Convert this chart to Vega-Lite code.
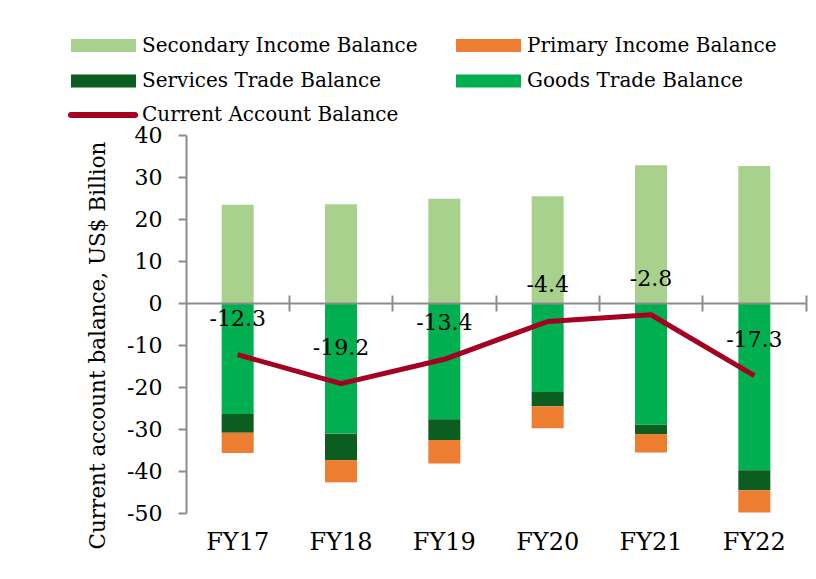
{
  "$schema": "https://vega.github.io/schema/vega-lite/v6.json",
  "width": 620,
  "height": 378,
  "autosize": {"type": "none"},
  "padding": {"left": 186, "top": 135, "right": 10, "bottom": 66},
  "background": "white",
  "config": {
    "font": "DejaVu Serif",
    "view": {"stroke": null},
    "axis": {"labelColor": "#000000", "titleColor": "#000000", "grid": false},
    "legend": {"labelColor": "#000000", "labelFont": "DejaVu Serif"}
  },
  "datasets": {
    "bars": [
      {"year": "FY17", "component": "Secondary Income Balance", "rank": 0, "value": 23.4},
      {"year": "FY17", "component": "Goods Trade Balance", "rank": 1, "value": -26.4},
      {"year": "FY17", "component": "Services Trade Balance", "rank": 2, "value": -4.5},
      {"year": "FY17", "component": "Primary Income Balance", "rank": 3, "value": -4.8},
      {"year": "FY18", "component": "Secondary Income Balance", "rank": 0, "value": 23.5},
      {"year": "FY18", "component": "Goods Trade Balance", "rank": 1, "value": -31.1},
      {"year": "FY18", "component": "Services Trade Balance", "rank": 2, "value": -6.3},
      {"year": "FY18", "component": "Primary Income Balance", "rank": 3, "value": -5.3},
      {"year": "FY19", "component": "Secondary Income Balance", "rank": 0, "value": 24.8},
      {"year": "FY19", "component": "Goods Trade Balance", "rank": 1, "value": -27.7},
      {"year": "FY19", "component": "Services Trade Balance", "rank": 2, "value": -4.9},
      {"year": "FY19", "component": "Primary Income Balance", "rank": 3, "value": -5.6},
      {"year": "FY20", "component": "Secondary Income Balance", "rank": 0, "value": 25.4},
      {"year": "FY20", "component": "Goods Trade Balance", "rank": 1, "value": -21.2},
      {"year": "FY20", "component": "Services Trade Balance", "rank": 2, "value": -3.4},
      {"year": "FY20", "component": "Primary Income Balance", "rank": 3, "value": -5.2},
      {"year": "FY21", "component": "Secondary Income Balance", "rank": 0, "value": 32.8},
      {"year": "FY21", "component": "Goods Trade Balance", "rank": 1, "value": -29.0},
      {"year": "FY21", "component": "Services Trade Balance", "rank": 2, "value": -2.2},
      {"year": "FY21", "component": "Primary Income Balance", "rank": 3, "value": -4.4},
      {"year": "FY22", "component": "Secondary Income Balance", "rank": 0, "value": 32.6},
      {"year": "FY22", "component": "Goods Trade Balance", "rank": 1, "value": -39.8},
      {"year": "FY22", "component": "Services Trade Balance", "rank": 2, "value": -4.8},
      {"year": "FY22", "component": "Primary Income Balance", "rank": 3, "value": -5.3}
    ],
    "ca": [
      {"year": "FY17", "value": -12.3, "label": "-12.3"},
      {"year": "FY18", "value": -19.2, "label": "-19.2"},
      {"year": "FY19", "value": -13.4, "label": "-13.4"},
      {"year": "FY20", "value": -4.4, "label": "-4.4"},
      {"year": "FY21", "value": -2.8, "label": "-2.8"},
      {"year": "FY22", "value": -17.3, "label": "-17.3"}
    ]
  },
  "resolve": {"axis": {"x": "independent"}},
  "layer": [
    {
      "data": {"name": "bars"},
      "mark": {"type": "bar", "width": 32},
      "encoding": {
        "x": {
          "field": "year", "type": "nominal",
          "scale": {"paddingInner": 0, "paddingOuter": 0},
          "axis": {"orient": "bottom", "domain": false, "ticks": false, "labelFontSize": 24, "labelPadding": 17, "labelAngle": 0, "title": null}
        },
        "y": {
          "field": "value", "type": "quantitative", "stack": "zero",
          "scale": {"domain": [-50, 40]},
          "title": "Current account balance, US$ Billion",
          "axis": {
            "values": [-50, -40, -30, -20, -10, 0, 10, 20, 30, 40],
            "labelExpr": "'' + datum.value",
            "labelFontSize": 22, "labelPadding": 16, "tickSize": 8, "tickWidth": 2, "tickColor": "#8c8c8c",
            "domainColor": "#8c8c8c", "domainWidth": 2,
            "titleFontSize": 21.5, "titleFontWeight": "normal", "titleX": -88, "titleY": 210,
            "titleAngle": -90, "titleAlign": "center", "titleBaseline": "middle"
          }
        },
        "order": {"field": "rank", "type": "quantitative", "sort": "ascending"},
        "color": {
          "field": "component", "type": "nominal",
          "scale": {
            "domain": ["Secondary Income Balance", "Goods Trade Balance", "Services Trade Balance", "Primary Income Balance"],
            "range": ["#A9D18E", "#00B050", "#0B5E20", "#ED7D31"]
          },
          "legend": {
            "orient": "none", "legendX": -95.5, "legendY": -102.5, "columns": 2, "columnPadding": 37, "rowPadding": 12.5,
            "values": ["Secondary Income Balance", "Services Trade Balance", "Primary Income Balance", "Goods Trade Balance"],
            "symbolType": "M-2.5,-0.5H2.5V0.5H-2.5Z", "symbolSize": 676, "symbolStrokeWidth": 0, "symbolOpacity": 1,
            "labelFontSize": 20, "labelOffset": 25.5, "title": null, "padding": 0, "labelLimit": 400
          }
        }
      }
    },
    {
      "data": {"name": "ca"},
      "mark": {"type": "line", "strokeWidth": 5, "strokeJoin": "round"},
      "encoding": {
        "x": {
          "field": "year", "type": "nominal",
          "axis": {"orient": "top", "offset": -168, "labels": false, "ticks": true, "tickSize": 8, "tickWidth": 2, "tickColor": "#8c8c8c", "bandPosition": 1, "domain": true, "domainColor": "#8c8c8c", "domainWidth": 2, "title": null, "zindex": 1}
        },
        "y": {"field": "value", "type": "quantitative", "title": "Current account balance, US$ Billion"},
        "stroke": {
          "datum": "Current Account Balance",
          "scale": {"range": ["#A50021"]},
          "legend": {
            "orient": "none", "legendX": -118, "legendY": -55,
            "symbolType": "stroke", "symbolSize": 4096, "symbolStrokeWidth": 6,
            "labelFontSize": 20, "labelOffset": 4, "title": null, "padding": 0, "labelLimit": 400,
            "encode": {"symbols": {"update": {"strokeCap": {"value": "round"}}}}
          }
        }
      }
    },
    {
      "data": {"name": "ca"},
      "mark": {"type": "text", "dy": -36, "fontSize": 22, "color": "#000000"},
      "encoding": {
        "x": {
          "field": "year", "type": "nominal",
          "axis": {"orient": "bottom", "offset": -210, "labels": false, "ticks": true, "tickSize": 8, "tickWidth": 2, "tickColor": "#8c8c8c", "bandPosition": 1, "domain": false, "title": null, "zindex": 1}
        },
        "y": {"field": "value", "type": "quantitative", "title": "Current account balance, US$ Billion"},
        "text": {"field": "label", "type": "nominal"}
      }
    }
  ]
}
